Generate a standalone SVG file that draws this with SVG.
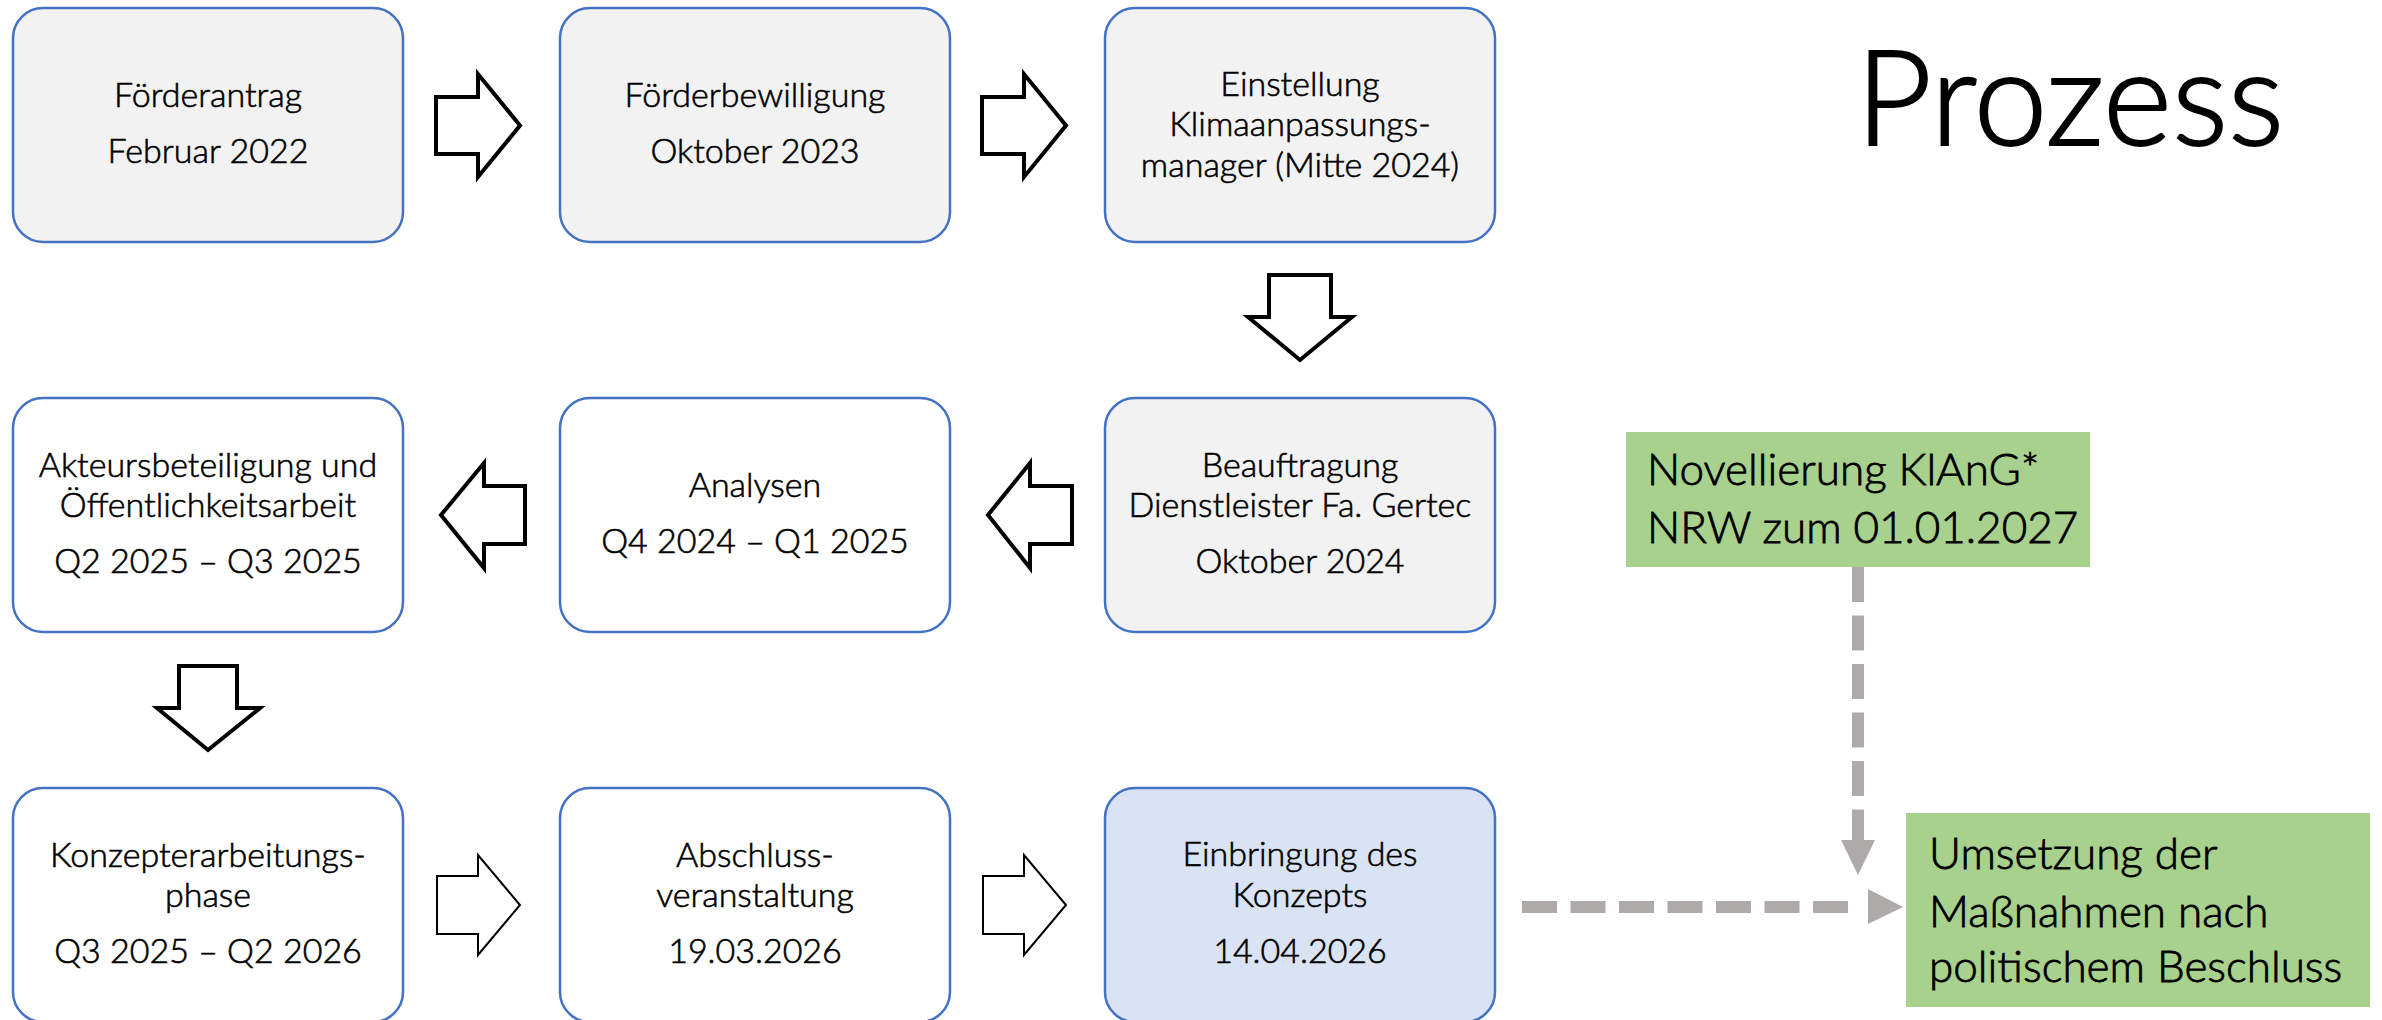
<svg xmlns="http://www.w3.org/2000/svg" width="2382" height="1020" viewBox="0 0 2382 1020">
<style>
.box{stroke:#4472C4;stroke-width:2.5}
.grey{fill:#F2F2F2}
.white{fill:#FFFFFF}
.blue{fill:#DAE3F3}
.green{fill:#A9D18E}
.t{font-family:Lato,"Open Sans","Liberation Sans",sans-serif;font-weight:300;font-size:34px;fill:#000;stroke:#000;stroke-width:0.6;text-anchor:middle}
.g{font-family:Lato,"Open Sans","Liberation Sans",sans-serif;font-weight:300;font-size:44px;fill:#000;stroke:#000;stroke-width:0.8}
.title{font-family:Lato,"Open Sans","Liberation Sans",sans-serif;font-weight:300;font-size:132px;fill:#000;stroke:#000;stroke-width:2;text-anchor:middle}
.blk{fill:#FFFFFF;stroke:#000;stroke-width:4;stroke-linejoin:miter}
.blk2{fill:#FFFFFF;stroke:#000;stroke-width:2;stroke-linejoin:miter}
.dash{stroke:#AEAAAA;stroke-width:12;fill:none;stroke-dasharray:35 13.5}
.head{fill:#AEAAAA}
</style>
<rect width="2382" height="1020" fill="#FFFFFF"/>
<text class="title" x="2070" y="145">Prozess</text>

<g id="n1"><rect class="box grey" x="13" y="8" width="390" height="234" rx="30"/>
<text class="t" x="208" y="107">Förderantrag</text><text class="t" x="208" y="163">Februar 2022</text></g>
<g id="n2"><rect class="box grey" x="560" y="8" width="390" height="234" rx="30"/>
<text class="t" x="755" y="107">Förderbewilligung</text><text class="t" x="755" y="163">Oktober 2023</text></g>
<g id="n3"><rect class="box grey" x="1105" y="8" width="390" height="234" rx="30"/>
<text class="t" x="1300" y="96">Einstellung</text><text class="t" x="1300" y="136">Klimaanpassungs-</text><text class="t" x="1300" y="177">manager (Mitte 2024)</text></g>

<g id="n4"><rect class="box white" x="13" y="398" width="390" height="234" rx="30"/>
<text class="t" x="208" y="476.5">Akteursbeteiligung und</text><text class="t" x="208" y="516.7">Öffentlichkeitsarbeit</text><text class="t" x="208" y="573.3">Q2 2025 – Q3 2025</text></g>
<g id="n5"><rect class="box white" x="560" y="398" width="390" height="234" rx="30"/>
<text class="t" x="755" y="497">Analysen</text><text class="t" x="755" y="553">Q4 2024 – Q1 2025</text></g>
<g id="n6"><rect class="box grey" x="1105" y="398" width="390" height="234" rx="30"/>
<text class="t" x="1300" y="476.5">Beauftragung</text><text class="t" x="1300" y="516.7">Dienstleister Fa. Gertec</text><text class="t" x="1300" y="573.3">Oktober 2024</text></g>

<g id="n7"><rect class="box white" x="13" y="788" width="390" height="234" rx="30"/>
<text class="t" x="208" y="866.7">Konzepterarbeitungs-</text><text class="t" x="208" y="906.7">phase</text><text class="t" x="208" y="963.3">Q3 2025 – Q2 2026</text></g>
<g id="n8"><rect class="box white" x="560" y="788" width="390" height="234" rx="30"/>
<text class="t" x="755" y="866.7">Abschluss-</text><text class="t" x="755" y="906.7">veranstaltung</text><text class="t" x="755" y="963.3">19.03.2026</text></g>
<g id="n9"><rect class="box blue" x="1105" y="788" width="390" height="234" rx="30"/>
<text class="t" x="1300" y="866">Einbringung des</text><text class="t" x="1300" y="906.7">Konzepts</text><text class="t" x="1300" y="963.3">14.04.2026</text></g>

<g id="n10"><rect class="green" x="1626" y="432" width="464" height="135"/>
<text class="g" x="1647" y="485">Novellierung KlAnG*</text><text class="g" x="1647" y="543">NRW zum 01.01.2027</text></g>
<g id="n11"><rect class="green" x="1906" y="813" width="464" height="194"/>
<text class="g" x="1929" y="869">Umsetzung der</text><text class="g" x="1929" y="927">Maßnahmen nach</text><text class="g" x="1929" y="982">politischem Beschluss</text></g>

<g id="connectors">
<polygon class="blk" points="436,97 478,97 478,74 520,125.5 478,177 478,154 436,154"/>
<polygon class="blk" points="982,97 1024,97 1024,74 1066,125.5 1024,177 1024,154 982,154"/>
<polygon class="blk" points="1269,275 1331,275 1331,317 1352,317 1300,360 1248,317 1269,317"/>
<polygon class="blk" points="525,486 484,486 484,463 441,515 484,568 484,544 525,544"/>
<polygon class="blk" points="1072,486 1030,486 1030,463 988,515 1030,568 1030,544 1072,544"/>
<polygon class="blk" points="179,666 237,666 237,708 260,708 208,750 157,708 179,708"/>
<polygon class="blk2" points="437,876 478,876 478,855 520,905 478,955 478,934 437,934"/>
<polygon class="blk2" points="983,876 1024,876 1024,855 1066,905 1024,955 1024,934 983,934"/>
<line class="dash" x1="1858" y1="567" x2="1858" y2="840"/>
<polygon class="head" points="1841,840 1875,840 1858,875"/>
<line class="dash" x1="1522" y1="907" x2="1860" y2="907"/>
<polygon class="head" points="1868,889 1868,924 1903,907"/>
</g>
</svg>
